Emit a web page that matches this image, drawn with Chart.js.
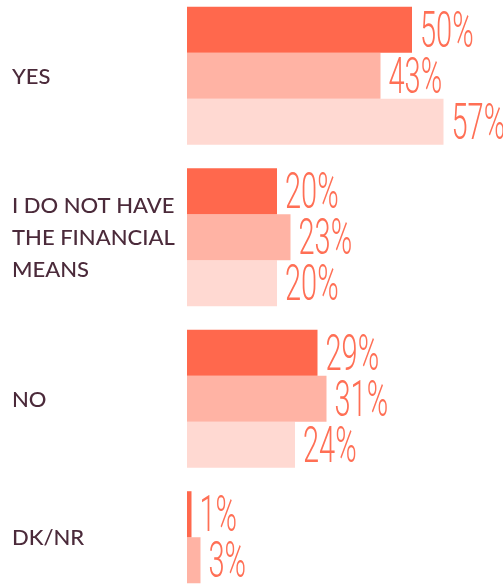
<!DOCTYPE html>
<html>
<head>
<meta charset="utf-8">
<script src="https://cdn.jsdelivr.net/npm/chart.js@4.4.1/dist/chart.umd.min.js"></script>
<style>
  html, body { margin: 0; padding: 0; background: #fff; overflow: hidden; }
  #wrap { position: absolute; left: 0; top: -5px; width: 503px; height: 646px; }
</style>
</head>
<body>
<div id="wrap"><canvas id="chart"></canvas></div>
<script>
// answer categories (multi-line labels as arrays)
var categories = [["YES"], ["I DO NOT HAVE", "THE FINANCIAL", "MEANS"], ["NO"], ["DK/NR"]];
// three survey series, percent
var series1 = [50, 20, 29, 1];
var series2 = [43, 23, 31, 3];
var series3 = [57, 20, 24, null];

var barColors = ["#ff684d", "#ffb3a4", "#ffd9d2"];
var valueColor = "#ff6f55";
var labelColor = "#4b2a3a";

// category names on the left, centred on the bars actually drawn in each group
var categoryLabels = {
    id: "categoryLabels",
    afterDatasetsDraw: function (chart) {
        var ctx = chart.ctx;
        ctx.save();
        ctx.fillStyle = labelColor;
        ctx.font = "500 22px Lato";
        ctx.textAlign = "left";
        ctx.textBaseline = "alphabetic";
        categories.forEach(function (lines, i) {
            var top = Infinity, bottom = -Infinity;
            chart.data.datasets.forEach(function (ds, d) {
                if (ds.data[i] == null) return;
                var el = chart.getDatasetMeta(d).data[i];
                var p = el.getProps(["y", "height"], true);
                top = Math.min(top, p.y - p.height / 2);
                bottom = Math.max(bottom, p.y + p.height / 2);
            });
            var mid = (top + bottom) / 2;
            var lh = 32;
            var y0 = mid - (lines.length - 1) * lh / 2;
            lines.forEach(function (t, k) {
                ctx.fillText(t, 12, y0 + k * lh + 8);
            });
        });
        ctx.restore();
    }
};

// percentage labels just past the end of each bar, in a narrow face
var valueLabels = {
    id: "valueLabels",
    afterDatasetsDraw: function (chart) {
        var ctx = chart.ctx;
        ctx.save();
        ctx.fillStyle = valueColor;
        ctx.font = "300 50px Roboto";
        ctx.textAlign = "left";
        ctx.textBaseline = "alphabetic";
        chart.data.datasets.forEach(function (ds, d) {
            chart.getDatasetMeta(d).data.forEach(function (el, i) {
                var v = ds.data[i];
                if (v == null) return;
                ctx.save();
                ctx.translate(el.x + 8, el.y + 17);
                ctx.scale(0.58, 1);
                ctx.fillText(v + "%", 0, 0);
                ctx.restore();
            });
        });
        ctx.restore();
    }
};

new Chart(document.getElementById("chart"), {
    type: "bar",
    data: {
        labels: categories,
        datasets: [
            { label: "1", data: series1, backgroundColor: barColors[0] },
            { label: "2", data: series2, backgroundColor: barColors[1] },
            { label: "3", data: series3, backgroundColor: barColors[2] }
        ]
    },
    options: {
        indexAxis: "y",
        responsive: true,
        maintainAspectRatio: false,
        animation: false,
        datasets: {
            bar: { borderWidth: 0, categoryPercentage: 0.855, barPercentage: 1 }
        },
        layout: { padding: { left: 187, right: 1, top: 0, bottom: 0 } },
        plugins: { legend: { display: false }, tooltip: { enabled: false } },
        scales: {
            x: { min: 0, max: 70, display: false },
            y: { display: false }
        }
    },
    plugins: [categoryLabels, valueLabels]
});
</script>
</body>
</html>
